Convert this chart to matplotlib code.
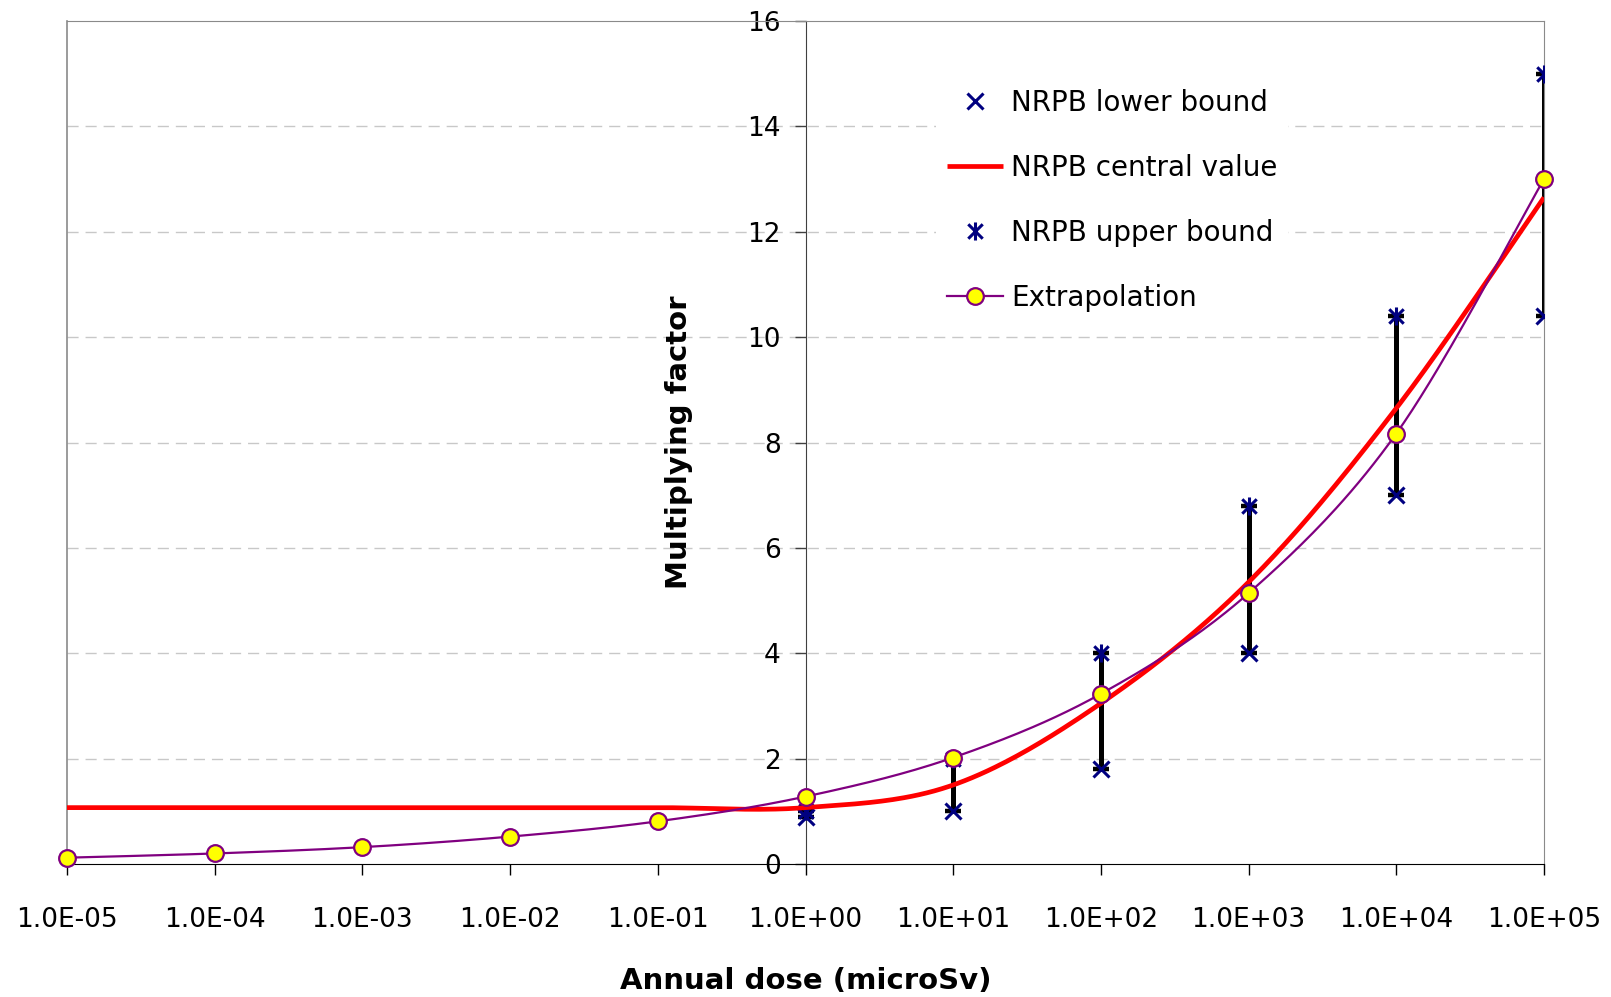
import numpy as np
import matplotlib
matplotlib.use("Agg")
import matplotlib.pyplot as plt
from matplotlib.path import Path
from matplotlib.ticker import FixedLocator, FixedFormatter, NullLocator

plt.rcParams.update({"font.family": ["DejaVu Sans"], "font.size": 19})

# data
doses = [1e-5, 1e-4, 1e-3, 1e-2, 1e-1, 1e0, 1e1, 1e2, 1e3, 1e4, 1e5]
dose_labels = ["1.0E-05", "1.0E-04", "1.0E-03", "1.0E-02", "1.0E-01", "1.0E+00",
               "1.0E+01", "1.0E+02", "1.0E+03", "1.0E+04", "1.0E+05"]
central = [1.07, 1.07, 1.07, 1.07, 1.07, 1.07, 1.5, 3.05, 5.35, 8.65, 12.65]
extrapolation = [0.12, 0.20, 0.32, 0.52, 0.81, 1.28, 2.02, 3.23, 5.14, 8.17, 13.0]
bound_doses = [1e0, 1e1, 1e2, 1e3, 1e4, 1e5]
lower = [0.9, 1.0, 1.8, 4.0, 7.0, 10.4]
upper = [1.0, 2.0, 4.0, 6.8, 10.4, 15.0]
y_ticks = [0, 2, 4, 6, 8, 10, 12, 14, 16]


def smooth(xs, ys, n=40):
    # Excel-style smoothed line: cubic bezier through points (catmull-rom tangents), in log-x space
    px = np.log10(np.asarray(xs, float))
    py = np.asarray(ys, float)
    pts = np.column_stack([px, py])
    out = []
    t = np.linspace(0, 1, n)[:, None]
    for i in range(len(pts) - 1):
        p0 = pts[max(i - 1, 0)]
        p1, p2 = pts[i], pts[i + 1]
        p3 = pts[min(i + 2, len(pts) - 1)]
        c1 = p1 + (p2 - p0) / 6
        c2 = p2 - (p3 - p1) / 6
        seg = ((1 - t) ** 3) * p1 + 3 * ((1 - t) ** 2) * t * c1 + 3 * (1 - t) * t ** 2 * c2 + t ** 3 * p2
        out.append(seg if i == 0 else seg[1:])
    seg = np.vstack(out)
    return 10 ** seg[:, 0], seg[:, 1]


asterisk = Path([(-1, -1), (1, 1), (-1, 1), (1, -1), (0, -1.25), (0, 1.25)],
                [Path.MOVETO, Path.LINETO, Path.MOVETO, Path.LINETO, Path.MOVETO, Path.LINETO])

fig = plt.figure(figsize=(16.11, 9.97), dpi=100)
ax = fig.add_axes([67 / 1611, 1 - 864 / 997, 1477 / 1611, 843 / 997])

ax.set_xscale("log")
ax.set_xlim(1e-5, 1e5)
ax.set_ylim(0, 16)

for yv in y_ticks[1:-1]:
    ax.axhline(yv, color="#c8c8c8", lw=1.0, ls=(0, (8, 5)), zorder=0)

# error bars between bounds
lo = np.array(lower)
up = np.array(upper)
ax.errorbar(bound_doses, lo, yerr=[np.zeros_like(lo), up - lo], fmt="none",
            ecolor="black", elinewidth=3.6, capsize=6, capthick=3.2, zorder=2)

h_low, = ax.plot(bound_doses, lower, ls="none", marker="x", ms=12, mew=2.2,
                 color="#000080", zorder=3, label="NRPB lower bound")
h_up, = ax.plot(bound_doses, upper, ls="none", marker=asterisk, ms=13, mew=2.2,
                color="#000080", zorder=3, label="NRPB upper bound")

cx, cy = smooth(doses, central)
h_cen, = ax.plot(cx, cy, color="red", lw=3.4, zorder=4, label="NRPB central value",
                 solid_capstyle="butt")

ex, ey = smooth(doses, extrapolation)
ax.plot(ex, ey, color="#800080", lw=1.6, zorder=5)
ax.plot(doses, extrapolation, ls="none", marker="o", ms=12, mfc="#ffff00",
        mec="#800080", mew=1.6, zorder=6, clip_on=False)
h_ext, = ax.plot([], [], color="#800080", lw=1.6, marker="o", ms=12,
                 mfc="#ffff00", mec="#800080", mew=1.6, label="Extrapolation")

# axes: y axis crosses at 1.0E+00
ax.spines["left"].set_position(("data", 1.0))
ax.spines["left"].set_color("#404040")
ax.spines["left"].set_zorder(1)
ax.spines["bottom"].set_color("black")
for s in ["top", "right"]:
    ax.spines[s].set_color("#8a8a8a")
ax.plot([0, 0], [0, 1], transform=ax.transAxes, color="#8a8a8a", lw=1.2, clip_on=False, zorder=1)

ax.xaxis.set_major_locator(FixedLocator(doses))
ax.xaxis.set_major_formatter(FixedFormatter(dose_labels))
ax.xaxis.set_minor_locator(NullLocator())
ax.set_yticks(y_ticks)
ax.tick_params(axis="x", direction="out", length=8, width=1, pad=23, labelsize=19)
ax.tick_params(axis="y", direction="out", length=8, width=1, pad=10, labelsize=19,
               color="#404040")

ax.set_xlabel("Annual dose (microSv)", fontsize=21, fontweight="bold")
ax.xaxis.set_label_coords(0.5, -0.122)
ax.set_ylabel("Multiplying factor", fontsize=21, fontweight="bold")
ax.yaxis.set_label_coords(0.424, 0.5)

leg = ax.legend(handles=[h_low, h_cen, h_up, h_ext], loc="upper left",
                bbox_to_anchor=(922 / 1611, 1 - 64 / 997), bbox_transform=fig.transFigure,
                frameon=True, fontsize=20, handlelength=2.0, handletextpad=0.3,
                labelspacing=1.33, numpoints=1, borderpad=0.4)
leg.get_frame().set_facecolor("white")
leg.get_frame().set_edgecolor("none")
leg.get_frame().set_alpha(1.0)

fig.savefig("out.png", dpi=100)
